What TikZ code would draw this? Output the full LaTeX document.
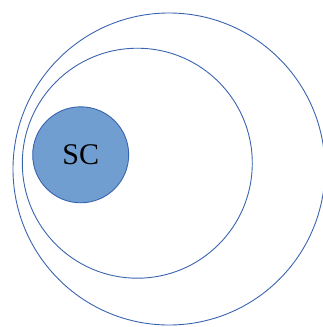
\documentclass[tikz,border=0pt]{standalone}
\usepackage{fontspec}
\setmainfont{Liberation Serif}
\usetikzlibrary{positioning}
\definecolor{ringblue}{RGB}{58,100,175}
\definecolor{coreblue}{RGB}{112,158,208}
\tikzset{
  ring/.style={circle, draw=ringblue, line width=0.9pt, inner sep=0pt},
  core/.style={ring, fill=coreblue, minimum size=96pt, font=\fontsize{30}{30}\selectfont},
}

\begin{document}
\begin{tikzpicture}[x=1pt, y=-1pt]
  \useasboundingbox (0,0) rectangle (323,327);
  \node[ring, minimum size=312pt] (outer) at (169,169)   {};
  \node[ring, minimum size=230pt] (inner) at (137.3,163.2) {};
  \node[core]                     (sc)    at (80.7,154.8) {SC};
\end{tikzpicture}
\end{document}
